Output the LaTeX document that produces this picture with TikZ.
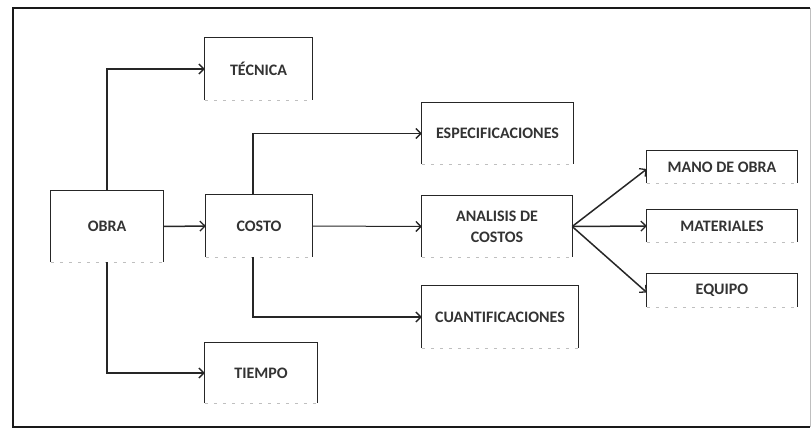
\documentclass[tikz,border=0pt]{standalone}
\usepackage{fontspec}
\setmainfont{Carlito}
\usetikzlibrary{arrows.meta}
\begin{document}
\begin{tikzpicture}[x=1pt,y=-1pt,
  box/.style={draw=none,rectangle,inner sep=2pt,align=center,font=\fontsize{16}{21}\selectfont\bfseries,text=black!80},
  conn/.style={draw=black!85,line width=1.5pt,-{Straight Barb[length=5pt,width=10pt,line width=1.3pt]}},
  frameline/.style={line width=2pt,black!90}]
\useasboundingbox (0,0) rectangle (812,429);
\draw[frameline] (810,8) -- (13,8) -- (13,427) -- (810,427);
\draw[line width=0.8pt,black!25] (810,8) -- (810,427);

\node[box,minimum width=107,minimum height=62] (tec) at (258.5,69) {TÉCNICA};
\node[box,minimum width=112,minimum height=71] (obra) at (107,226.5) {OBRA};
\node[box,minimum width=106,minimum height=62] (costo) at (259,226) {COSTO};
\node[box,minimum width=112,minimum height=60] (tiempo) at (261,373) {TIEMPO};
\node[box,minimum width=151,minimum height=61] (espec) at (497.5,133.5) {ESPECIFICACIONES};
\node[box,minimum width=150,minimum height=61] (anal) at (497,226.5) {ANALISIS DE\\COSTOS};
\node[box,minimum width=156,minimum height=62] (cuant) at (500,317) {CUANTIFICACIONES};
\node[box,minimum width=150,minimum height=32] (mano) at (722,167) {MANO DE OBRA};
\node[box,minimum width=150,minimum height=32] (mat) at (722,226) {MATERIALES};
\node[box,minimum width=150,minimum height=33] (equi) at (722,290.5) {EQUIPO};

\foreach \n in {tec,obra,costo,tiempo,espec,anal,cuant,mano,mat,equi}{
  \draw[line width=1.3pt,black!85] (\n.south west) |- (\n.north east) -- (\n.south east);
  \draw[line width=1pt,black!25,dash pattern=on 3pt off 6pt] (\n.south west) -- (\n.south east);
}

\draw[conn] (obra.north) |- (tec.west);
\draw[conn] (obra.east) -- (costo.west);
\draw[conn] (obra.south) |- (tiempo.west);
\draw[conn] ([xshift=-6pt]costo.north) |- (espec.west);
\draw[conn,line width=1pt] (costo.east) -- (anal.west);
\draw[conn] ([xshift=-6pt]costo.south) |- (cuant.west);
\draw[conn] (anal.east) -- ([yshift=-2pt]mano.west);
\draw[conn] (anal.east) -- (mat.west);
\draw[conn] (anal.east) -- ([yshift=-2pt]equi.west);
\end{tikzpicture}
\end{document}
